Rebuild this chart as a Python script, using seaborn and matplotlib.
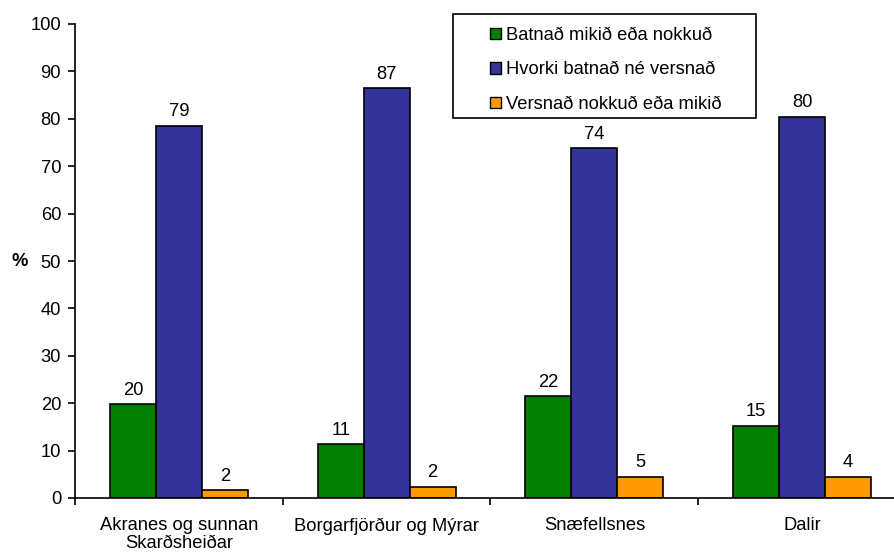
import numpy as np
import pandas as pd
import matplotlib
matplotlib.use("Agg")
import matplotlib.pyplot as plt
from matplotlib.patches import Patch, Rectangle
import seaborn as sns

# ==================== DATA ====================
REGIONS = ["Akranes og sunnan\nSkarðsheiðar", "Borgarfjörður og Mýrar", "Snæfellsnes", "Dalir"]
GROUPS = ["Batnað mikið eða nokkuð", "Hvorki batnað né versnað", "Versnað nokkuð eða mikið"]
COLORS = ["#008000", "#333399", "#FF9900"]

batnad = [19.8, 11.3, 21.5, 15.2]
hvorki = [78.5, 86.4, 73.8, 80.4]
versnad = [1.6, 2.4, 4.5, 4.5]

batnad_lbl = [20, 11, 22, 15]
hvorki_lbl = [79, 87, 74, 80]
versnad_lbl = [2, 2, 5, 4]

YTICKS = list(range(0, 101, 10))

# ==================== TABLE ====================
rows = []
for g, vals in zip(GROUPS, [batnad, hvorki, versnad]):
    for r, v in zip(REGIONS, vals):
        rows.append({"region": r, "group": g, "value": v})
df = pd.DataFrame(rows)

# ==================== PLOT ====================
FS = 13.2
sns.set_style("ticks")
plt.rcParams["font.family"] = ["Liberation Sans", "DejaVu Sans"]
plt.rcParams["font.size"] = FS
for k in ["text.color", "axes.labelcolor", "xtick.color", "ytick.color"]:
    plt.rcParams[k] = "black"

fig = plt.figure(figsize=(8.95, 5.56), dpi=100)
ax = fig.add_axes([75 / 895, 58 / 556, 831 / 895, 474 / 556])

sns.barplot(data=df, x="region", y="value", hue="group", order=REGIONS,
            hue_order=GROUPS, palette=COLORS, edgecolor="black", linewidth=1.2,
            width=0.664, gap=0, saturation=1, legend=False, ax=ax)

for cont, lbls in zip(ax.containers, [batnad_lbl, hvorki_lbl, versnad_lbl]):
    ax.bar_label(cont, labels=[str(v) for v in lbls], padding=4, fontsize=FS, color="black")

ax.set_xlim(-0.5, 3.5)
ax.set_ylim(0, 100)
ax.set_yticks(YTICKS)
ax.set_xticks(np.arange(len(REGIONS)))
ax.set_xticklabels(REGIONS, linespacing=1.05)
ax.set_xticks(np.arange(len(REGIONS)) - 0.5, minor=True)
ax.tick_params(axis="x", which="major", length=0, pad=14, labelsize=FS)
ax.tick_params(axis="x", which="minor", length=5, width=1.2, direction="out", color="black")
ax.tick_params(axis="y", length=5, width=1.2, pad=5, labelsize=FS, color="black")
ax.set_xlabel("")
ax.set_ylabel("%", rotation=0, fontweight="bold", fontsize=FS, ha="center", va="center")
ax.yaxis.set_label_coords(-0.067, 0.5)

sns.despine(ax=ax)
for s in ["left", "bottom"]:
    ax.spines[s].set_color("black")
    ax.spines[s].set_linewidth(1.2)

# legend box
handles = [Patch(facecolor=c, edgecolor="black", linewidth=1.0) for c in COLORS]
fig.legend(handles, GROUPS, loc="upper left", bbox_to_anchor=(490 / 895, 1 - 27 / 556),
           frameon=False, fontsize=FS, handlelength=0.6, handleheight=0.6,
           handletextpad=0.25, labelspacing=0.95, borderpad=0, borderaxespad=0)
fig.patches.append(Rectangle((453 / 895, 1 - 118 / 556), 303 / 895, 104 / 556,
                             transform=fig.transFigure, fill=False,
                             edgecolor="black", linewidth=1.2))

plt.savefig("out.png", dpi=100)
